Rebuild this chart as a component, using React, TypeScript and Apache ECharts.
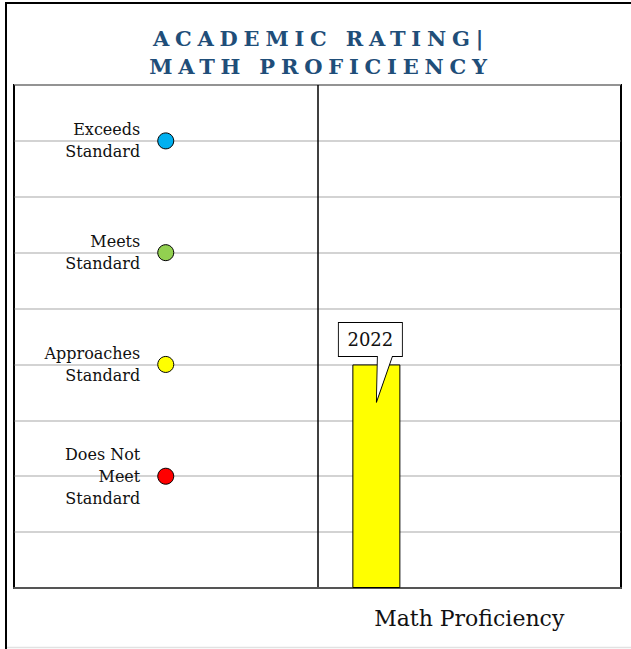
import React, { useEffect, useRef } from "react";
import * as echarts from "echarts";

const titleLines = ["ACADEMIC RATING|", "MATH PROFICIENCY"];
const xCategories = ["", "Math Proficiency"];
const levelNames = [
  "Exceeds\nStandard",
  "Meets\nStandard",
  "Approaches\nStandard",
  "Does Not\nMeet\nStandard",
];
const levelValues = [8, 6, 4, 2];
const levelColors = ["#00B0F0", "#92D050", "#FFFF00", "#FF0000"];
const seriesYears = ["2022", "2023", "2024", "2025"];
const yearValues: (number | null)[] = [4, null, null, null];
const yearColors = ["#FFFF00", "#FFFF00", "#FFFF00", "#FFFF00"];
const yMin = 0;
const yMax = 9;
const yInterval = 1;

const SERIF = "DejaVu Serif";
const TITLE_COLOR = "#1F4E79";

export default function App() {
  const ref = useRef<HTMLDivElement>(null);

  useEffect(() => {
    const el = ref.current;
    if (!el) return;
    const chart = echarts.init(el, null, { renderer: "svg" });

    const scatterData = levelNames.map((n, i) => ({
      name: n,
      value: [0, levelValues[i]],
      itemStyle: { color: levelColors[i] },
    }));

    const barSeries = seriesYears.map((y, i) => ({
      type: "bar",
      name: y,
      data: [null, yearValues[i]],
      barWidth: 48,
      barGap: "29%",
      itemStyle: { color: yearColors[i], borderColor: "#000", borderWidth: 1 },
      markPoint:
        yearValues[i] != null
          ? {
              symbol: "path://M0,0L64,0L64,34L54,34L38,80L39,34L0,34Z",
              symbolSize: [64, 80],
              symbolOffset: [-6, -2],
              itemStyle: { color: "#fff", borderColor: "#000", borderWidth: 1 },
              label: {
                show: true,
                position: "inside",
                offset: [0, -23],
                formatter: () => y,
                fontFamily: SERIF,
                fontSize: 18,
                color: "#111",
              },
              data: [{ coord: [1, yearValues[i]], value: y }],
            }
          : undefined,
    }));

    chart.setOption({
      animation: false,
      backgroundColor: "#fff",
      textStyle: { fontFamily: SERIF },
      graphic: [
        {
          type: "rect",
          shape: { x: 6, y: 3, width: 700, height: 700 },
          style: { fill: "none", stroke: "#000", lineWidth: 2 },
          silent: true,
        },
        {
          type: "line",
          shape: { x1: 7, y1: 647.5, x2: 631, y2: 647.5 },
          style: { stroke: "#e2e2e2", lineWidth: 1.5 },
          silent: true,
        },
        ...titleLines.map((t, i) => ({
          type: "text",
          x: 321,
          y: 38.5 + i * 27.5,
          style: {
            text: t,
            font: `bold 21px "DejaVu Serif"`,
            fill: TITLE_COLOR,
            textAlign: "center",
            textVerticalAlign: "middle",
          },
        })),
      ],
      grid: {
        left: 14,
        right: 10,
        top: 85,
        bottom: 61,
        show: true,
        borderColor: "#000",
        borderWidth: 2,
        backgroundColor: "transparent",
      },
      xAxis: {
        type: "category",
        data: xCategories,
        axisTick: { show: false },
        axisLine: { show: true, lineStyle: { color: "#555", width: 2 } },
        axisLabel: {
          margin: 19,
          fontFamily: SERIF,
          fontSize: 22,
          color: "#111",
        },
        splitLine: { show: true, lineStyle: { color: "#000", width: 1.5 } },
      },
      yAxis: {
        type: "value",
        min: yMin,
        max: yMax,
        interval: yInterval,
        axisLine: { show: false },
        axisTick: { show: false },
        axisLabel: { show: false },
        splitLine: { show: true, lineStyle: { color: "#c4c4c4", width: 1.5 } },
      },
      series: [
        ...barSeries,
        {
          type: "scatter",
          name: "Levels",
          data: scatterData,
          symbol: "circle",
          symbolSize: 16,
          z: 5,
          itemStyle: { borderColor: "#000", borderWidth: 1, opacity: 1 },
          label: {
            show: true,
            position: "left",
            distance: 17,
            formatter: "{b}",
            fontFamily: SERIF,
            fontSize: 16,
            lineHeight: 22,
            color: "#111",
            align: "right",
          },
        },
      ],
    });

    el.querySelectorAll("text").forEach((t) => {
      if (titleLines.includes((t.textContent || "").trim())) {
        (t as SVGTextElement).style.letterSpacing = "5.8px";
      }
    });

    return () => chart.dispose();
  }, []);

  return (
    <div
      ref={ref}
      style={{ position: "fixed", left: 0, top: 0, width: 631, height: 649 }}
    />
  );
}
